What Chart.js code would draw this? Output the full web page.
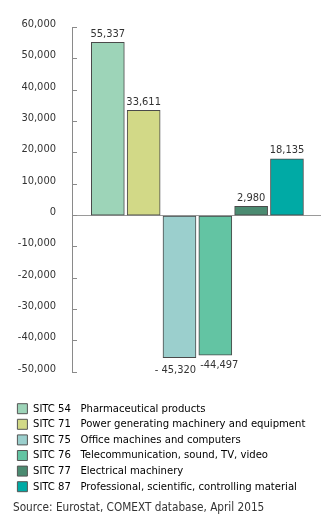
<!DOCTYPE html>
<html>
<head>
<meta charset="utf-8">
<script src="https://cdn.jsdelivr.net/npm/chart.js@4.4.1/dist/chart.umd.min.js"></script>
<style>
  html, body { margin: 0; padding: 0; background: #fff; }
  #wrap { width: 321px; height: 516px; }
</style>
</head>
<body>
<div id="wrap"><canvas id="c" width="321" height="516"></canvas></div>
<script>
const codes = ['SITC 54', 'SITC 71', 'SITC 75', 'SITC 76', 'SITC 77', 'SITC 87'];
const categories = [
  'Pharmaceutical products',
  'Power generating machinery and equipment',
  'Office machines and computers',
  'Telecommunication, sound, TV, video',
  'Electrical machinery',
  'Professional, scientific, controlling material'
];
const values = [55337, 33611, -45320, -44497, 2980, 18135];
const valueLabels = ['55,337', '33,611', '- 45,320', '-44,497', '2,980', '18,135'];
const yTicks = [60000, 50000, 40000, 30000, 20000, 10000, 0, -10000, -20000, -30000, -40000, -50000];
const source = 'Source: Eurostat, COMEXT database, April 2015';

const colors = ['#9dd4b8', '#d2d987', '#9bcfcd', '#63c4a3', '#4b8b71', '#00aaa5'];
const labelShiftX = [0, 0, -4, 4, 0, 0];
const labelShiftY = [0, 0, 2, 0, 0, 0];
const FONT = "'Liberation Sans Narrow', 'DejaVu Sans Condensed', sans-serif";
const TEXT = '#333333';

function fmt(v) {
  const s = Math.abs(v).toString().replace(/\B(?=(\d{3})+(?!\d))/g, ',');
  return (v < 0 ? '-' : '') + s;
}

const valueLabelPlugin = {
  id: 'valueLabels',
  afterDatasetsDraw(chart) {
    const ctx = chart.ctx;
    const meta = chart.getDatasetMeta(0);
    ctx.save();
    ctx.font = '11px ' + FONT;
    ctx.fillStyle = TEXT;
    ctx.textAlign = 'center';
    meta.data.forEach((el, i) => {
      const v = values[i];
      if (v >= 0) {
        ctx.textBaseline = 'bottom';
        ctx.fillText(valueLabels[i], el.x + labelShiftX[i], el.y - 3 + labelShiftY[i]);
      } else {
        ctx.textBaseline = 'top';
        ctx.fillText(valueLabels[i], el.x + labelShiftX[i], el.y + 5 + labelShiftY[i]);
      }
    });
    ctx.restore();
  }
};

new Chart(document.getElementById('c'), {
  type: 'bar',
  data: {
    datasets: [{
      data: values.map((v, i) => ({ x: i + 1, y: v })),
      backgroundColor: colors,
      borderColor: '#4a4a4a',
      borderWidth: 1,
      borderSkipped: false,
      barThickness: 33
    }]
  },
  options: {
    responsive: false,
    animation: false,
    devicePixelRatio: 1,
    layout: { padding: { top: 18.4, left: 13, right: 0, bottom: 2 } },
    scales: {
      x: {
        type: 'linear',
        min: 0,
        max: 6.95,
        offset: false,
        display: true,
        afterFit(scale) { scale.height = 26.4; },
        ticks: { display: false },
        grid: { display: false },
        border: { display: false }
      },
      y: {
        min: -50000,
        max: 60000,
        afterFit(scale) { scale.width = 72 - 13; },
        afterBuildTicks(scale) { scale.ticks = yTicks.map(v => ({ value: v })); },
        border: { display: true, color: '#8a8a8a', width: 1 },
        grid: {
          drawOnChartArea: true,
          drawTicks: true,
          tickLength: -5,
          color: (c) => (c.tick && c.tick.value === 0 ? '#9a9a9a' : 'rgba(0,0,0,0)'),
          tickColor: '#8a8a8a',
          lineWidth: 1
        },
        ticks: {
          padding: 21,
          labelOffset: -3.5,
          color: TEXT,
          font: { family: FONT, size: 11 },
          callback: (v) => fmt(v)
        }
      }
    },
    plugins: {
      tooltip: { enabled: false },
      legend: {
        position: 'bottom',
        align: 'start',
        labels: {
          boxWidth: 10,
          boxHeight: 10,
          padding: 4.4,
          color: TEXT,
          font: { family: FONT, size: 11.2 },
          generateLabels: () => categories.map((c, i) => ({
            text: codes[i] + '   ' + c,
            fillStyle: colors[i],
            strokeStyle: '#555555',
            lineWidth: 1,
            hidden: false,
            index: i
          }))
        }
      },
      title: {
        display: true,
        position: 'bottom',
        align: 'start',
        text: source,
        color: TEXT,
        font: { family: FONT, size: 11.7, weight: 'normal', lineHeight: 1 },
        padding: { top: 0, bottom: 0 }
      }
    }
  },
  plugins: [valueLabelPlugin]
});
</script>
</body>
</html>
